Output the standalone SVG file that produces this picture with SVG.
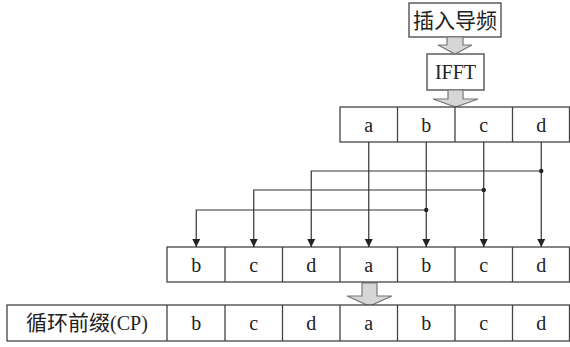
<svg xmlns="http://www.w3.org/2000/svg" width="570" height="347" viewBox="0 0 570 347">
<style>
.box{fill:#fff;stroke:#444;stroke-width:1.3}
.t{font-family:"Liberation Serif","Noto Sans CJK SC",serif;font-size:20px;fill:#222;text-anchor:middle}
.zh{font-family:"Noto Sans CJK SC","Liberation Serif",serif;font-size:21px;fill:#222;text-anchor:middle}
.big{fill:#d6d6d6;stroke:#777;stroke-width:1.2}
.ln{fill:none;stroke:#333;stroke-width:1.2}
</style>
<defs>
<marker id="ah" viewBox="0 0 8 10" refX="8" refY="5" markerWidth="8" markerHeight="10" markerUnits="userSpaceOnUse" orient="auto">
<path d="M0,1 L8,5 L0,9 Z" fill="#222"/>
</marker>
</defs>
<rect width="570" height="347" fill="#fff"/>
<g id="pilot">
<rect class="box" x="409" y="3" width="92" height="34"/>
<text class="zh" x="455" y="28">插入导频</text>
</g>
<g id="ifft">
<rect class="box" x="427" y="54" width="57" height="36"/>
<text class="t" x="455.5" y="79">IFFT</text>
</g>
<g id="arrows-big">
<path class="big" d="M447,37 H463 V45 H472 L455,54 L438,45 H447 Z"/>
<path class="big" d="M448,90 H463 V99 H478 L455.5,107 L433,99 H448 Z"/>
<path class="big" d="M362,283 H377 V296 H392 L369.5,306 L347,296 H362 Z"/>
</g>
<g id="row-top">
<rect class="box" x="340" y="107" width="229.5" height="35"/>
<line class="box" x1="397.5" y1="107" x2="397.5" y2="142"/>
<line class="box" x1="455" y1="107" x2="455" y2="142"/>
<line class="box" x1="512.5" y1="107" x2="512.5" y2="142"/>
<text class="t" x="368.75" y="132">a</text>
<text class="t" x="426.25" y="132">b</text>
<text class="t" x="483.75" y="132">c</text>
<text class="t" x="541.25" y="132">d</text>
</g>
<g id="row-mid">
<rect class="box" x="167" y="247" width="402.5" height="35"/>
<line class="box" x1="225" y1="247" x2="225" y2="282"/>
<line class="box" x1="282.5" y1="247" x2="282.5" y2="282"/>
<line class="box" x1="340" y1="247" x2="340" y2="282"/>
<line class="box" x1="397.5" y1="247" x2="397.5" y2="282"/>
<line class="box" x1="455" y1="247" x2="455" y2="282"/>
<line class="box" x1="512.5" y1="247" x2="512.5" y2="282"/>
<text class="t" x="196.25" y="272">b</text>
<text class="t" x="253.75" y="272">c</text>
<text class="t" x="311.25" y="272">d</text>
<text class="t" x="368.75" y="272">a</text>
<text class="t" x="426.25" y="272">b</text>
<text class="t" x="483.75" y="272">c</text>
<text class="t" x="541.25" y="272">d</text>
</g>
<g id="row-cp">
<rect class="box" x="7" y="305" width="562.5" height="36"/>
<line class="box" x1="167" y1="305" x2="167" y2="341"/>
<line class="box" x1="225" y1="305" x2="225" y2="341"/>
<line class="box" x1="282.5" y1="305" x2="282.5" y2="341"/>
<line class="box" x1="340" y1="305" x2="340" y2="341"/>
<line class="box" x1="397.5" y1="305" x2="397.5" y2="341"/>
<line class="box" x1="455" y1="305" x2="455" y2="341"/>
<line class="box" x1="512.5" y1="305" x2="512.5" y2="341"/>
<text class="zh" x="87" y="330" font-size="19">循环前缀<tspan font-family="Liberation Serif, serif" font-size="20">(CP)</tspan></text>
<text class="t" x="196.25" y="330">b</text>
<text class="t" x="253.75" y="330">c</text>
<text class="t" x="311.25" y="330">d</text>
<text class="t" x="368.75" y="330">a</text>
<text class="t" x="426.25" y="330">b</text>
<text class="t" x="483.75" y="330">c</text>
<text class="t" x="541.25" y="330">d</text>
</g>
<g id="connectors">
<line class="ln" x1="368.75" y1="142" x2="368.75" y2="247" marker-end="url(#ah)"/>
<line class="ln" x1="426.25" y1="142" x2="426.25" y2="247" marker-end="url(#ah)"/>
<line class="ln" x1="483.75" y1="142" x2="483.75" y2="247" marker-end="url(#ah)"/>
<line class="ln" x1="541.25" y1="142" x2="541.25" y2="247" marker-end="url(#ah)"/>
<path class="ln" d="M541.25,171 H311.25 V247" marker-end="url(#ah)"/>
<path class="ln" d="M483.75,190 H253.75 V247" marker-end="url(#ah)"/>
<path class="ln" d="M426.25,210 H196.25 V247" marker-end="url(#ah)"/>
<circle cx="541.25" cy="171" r="2.2" fill="#222"/>
<circle cx="483.75" cy="190" r="2.2" fill="#222"/>
<circle cx="426.25" cy="210" r="2.2" fill="#222"/>
</g>
</svg>
